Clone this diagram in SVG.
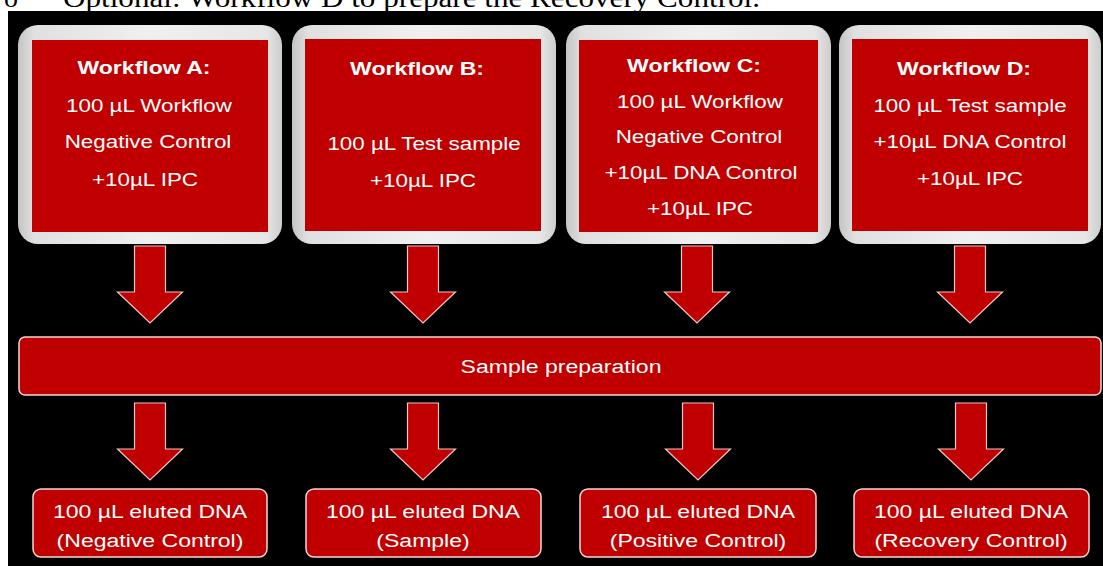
<svg xmlns="http://www.w3.org/2000/svg" width="1103" height="566" viewBox="0 0 1103 566">
<style>
.t{font-family:"Liberation Sans",Arial,sans-serif;font-size:17.5px;fill:#fff;text-anchor:middle}
.h{font-weight:bold;font-size:18px}
.s{font-size:18px}
.red{fill:#c00000}
.frame{fill:url(#fg)}
.arrow{fill:#c00000;stroke:#f2c4c4;stroke-width:1.2}
.box{fill:#c00000;stroke:#f4d6d6;stroke-width:1.5}
</style>
<defs>
<linearGradient id="fg" x1="0" y1="0" x2="1" y2="0">
<stop offset="0" stop-color="#c4c4c4"/>
<stop offset="0.06" stop-color="#e0e0e0"/>
<stop offset="0.5" stop-color="#f0f0f0"/>
<stop offset="0.94" stop-color="#e6e6e6"/>
<stop offset="1" stop-color="#cdcdcd"/>
</linearGradient>
</defs>
<rect x="0" y="0" width="1103" height="566" fill="#fff"/>
<text x="4" y="7" style="font-family:'Liberation Serif','Times New Roman',serif;font-size:28px;fill:#000">o</text>
<text x="63" y="7" textLength="697" lengthAdjust="spacingAndGlyphs" style="font-family:'Liberation Serif','Times New Roman',serif;font-size:27px;fill:#000">Optional: Workflow D to prepare the Recovery Control.</text>
<rect x="8" y="11" width="1095" height="555" fill="#000"/>

<g id="wfA">
<rect class="frame" x="18" y="25" width="264" height="219" rx="20"/>
<rect class="red" x="32" y="40" width="236" height="192"/>
<text class="t h" transform="translate(144,74) scale(1.28,1)">Workflow A:</text>
<text class="t" transform="translate(149,112) scale(1.28,1)">100 µL Workflow</text>
<text class="t" transform="translate(148,148) scale(1.28,1)">Negative Control</text>
<text class="t" transform="translate(145,186) scale(1.28,1)">+10µL IPC</text>
</g>
<g id="wfB">
<rect class="frame" x="292" y="25" width="264" height="219" rx="20"/>
<rect class="red" x="305" y="39" width="236" height="192"/>
<text class="t h" transform="translate(417,75) scale(1.28,1)">Workflow B:</text>
<text class="t" transform="translate(424,150) scale(1.28,1)">100 µL Test sample</text>
<text class="t" transform="translate(423,187) scale(1.28,1)">+10µL IPC</text>
</g>
<g id="wfC">
<rect class="frame" x="566" y="25" width="265" height="219" rx="20"/>
<rect class="red" x="579" y="40" width="239" height="192"/>
<text class="t h" transform="translate(694,72) scale(1.28,1)">Workflow C:</text>
<text class="t" transform="translate(700,108) scale(1.28,1)">100 µL Workflow</text>
<text class="t" transform="translate(699,143) scale(1.28,1)">Negative Control</text>
<text class="t" transform="translate(701,179) scale(1.28,1)">+10µL DNA Control</text>
<text class="t" transform="translate(700,215) scale(1.28,1)">+10µL IPC</text>
</g>
<g id="wfD">
<rect class="frame" x="839" y="25" width="262" height="219" rx="20"/>
<rect class="red" x="852" y="39" width="236" height="192"/>
<text class="t h" transform="translate(964,75) scale(1.28,1)">Workflow D:</text>
<text class="t" transform="translate(970,112) scale(1.28,1)">100 µL Test sample</text>
<text class="t" transform="translate(970,148) scale(1.28,1)">+10µL DNA Control</text>
<text class="t" transform="translate(970,185) scale(1.28,1)">+10µL IPC</text>
</g>

<g id="prep">
<rect class="box" x="19" y="337" width="1082" height="58" rx="6"/>
<text class="t" style="font-size:18px" transform="translate(561,373) scale(1.28,1)">Sample preparation</text>
</g>

<g id="connectors">
<path class="arrow" d="M134.5,246H165.5V292H182.5L150,323L117.5,292H134.5Z"/>
<path class="arrow" d="M407.5,246H438.5V292H455.5L423,323L390.5,292H407.5Z"/>
<path class="arrow" d="M681.5,246H712.5V292H729.5L697,323L664.5,292H681.5Z"/>
<path class="arrow" d="M954.5,246H985.5V292H1002.5L970,323L937.5,292H954.5Z"/>
<path class="arrow" d="M134.5,403H165.5V449H182.5L150,480L117.5,449H134.5Z"/>
<path class="arrow" d="M407.5,403H438.5V449H455.5L423,480L390.5,449H407.5Z"/>
<path class="arrow" d="M682.5,403H713.5V449H730.5L698,480L665.5,449H682.5Z"/>
<path class="arrow" d="M955.5,403H986.5V449H1003.5L971,480L938.5,449H955.5Z"/>
</g>

<g id="outA">
<rect class="box" x="33" y="489" width="234" height="68" rx="8"/>
<text class="t s" transform="translate(150,518) scale(1.28,1)">100 µL eluted DNA</text>
<text class="t s" transform="translate(150,547) scale(1.28,1)">(Negative Control)</text>
</g>
<g id="outB">
<rect class="box" x="306" y="489" width="235" height="68" rx="8"/>
<text class="t s" transform="translate(423,518) scale(1.28,1)">100 µL eluted DNA</text>
<text class="t s" transform="translate(423,547) scale(1.28,1)">(Sample)</text>
</g>
<g id="outC">
<rect class="box" x="580" y="489" width="236" height="68" rx="8"/>
<text class="t s" transform="translate(698,518) scale(1.28,1)">100 µL eluted DNA</text>
<text class="t s" transform="translate(698,547) scale(1.28,1)">(Positive Control)</text>
</g>
<g id="outD">
<rect class="box" x="854" y="489" width="235" height="68" rx="8"/>
<text class="t s" transform="translate(971,518) scale(1.28,1)">100 µL eluted DNA</text>
<text class="t s" transform="translate(971,547) scale(1.28,1)">(Recovery Control)</text>
</g>
</svg>
